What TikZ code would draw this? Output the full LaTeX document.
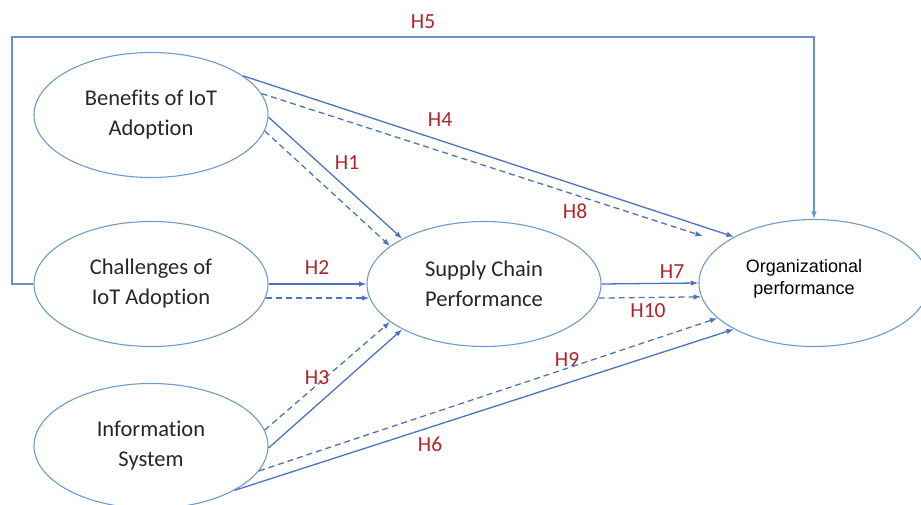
\documentclass[tikz,border=0pt]{standalone}
\usepackage{fontspec}
\setmainfont{Carlito}[Ligatures={NoCommon}]
\newfontfamily\orgfont{Liberation Sans}
\usetikzlibrary{shapes.geometric,arrows.meta}
\definecolor{ellc}{HTML}{6E9BCB}
\definecolor{linec}{HTML}{4A74C0}
\definecolor{labc}{HTML}{B3232A}
\tikzset{
  construct/.style={ellipse, draw=ellc, line width=1.1pt, inner sep=0pt,
    minimum width=234pt, minimum height=125pt, align=center,
    font=\fontsize{22.5}{30}\selectfont, text=black!85},
  link/.style={draw=linec, line width=1.3pt, -{Latex[length=7.5pt,width=5.5pt]}},
  dlink/.style={link, dash pattern=on 6pt off 4pt},
  hlab/.style={text=labc, font=\fontsize{21.5}{24}\selectfont, inner sep=0pt}
}
\begin{document}
\begin{tikzpicture}[x=1pt,y=-1pt]
\useasboundingbox (0,0) rectangle (921,505);
\node[construct] (ben) at (151,115) {Benefits of IoT\\Adoption};
\node[construct] (chal) at (151,284) {Challenges of\\IoT Adoption};
\node[construct] (info) at (151,446) {Information\\System};
\node[construct] (sc) at (484,284) {Supply Chain\\Performance};
\node[construct, minimum width=230pt, minimum height=127pt] (org) at (814,283) {};
\node[font=\orgfont\fontsize{18}{22}\selectfont, align=center, text=black] (orgt) at (804,279) {Organizational\\performance};
\coordinate (h5a) at (12,37);
% H5
\draw[link, draw=ellc!80!linec] (chal.west) -| (h5a) -| (org.north);
% H4 / H8
\draw[link] (ben.23.5) -- (org.150.3);
\draw[dlink, shorten >=22pt] (ben.11.7) -- (org.156.9);
% H1
\draw[link] (ben.-1) -- (sc.151.3);
\draw[dlink] (ben.-8.5) -- (sc.158.4);
% H2
\draw[link] (chal.0) -- (sc.180);
\draw[dlink] (chal.-7.5) -- (sc.187.6);
% H3
\draw[link] (info.-1) -- (sc.209);
\draw[dlink] (info.8.6) -- (sc.202.8);
% H7 / H10
\draw[link] (sc.0) -- (org.180);
\draw[dlink] (sc.-7.1) -- (org.187.2);
% H6 / H9
\draw[link] (info.-28.7) -- (org.210.2);
\draw[dlink] (info.-13) -- (org.200.8);
% labels
\node[hlab] (l5) at (423,22) {H5};
\node[hlab] (l4) at (440,120) {H4};
\node[hlab] (l1) at (347,163) {H1};
\node[hlab] (l8) at (575,211) {H8};
\node[hlab] (l2) at (317,268) {H2};
\node[hlab] (l7) at (672,272) {H7};
\node[hlab] (l10) at (648,311) {H10};
\node[hlab] (l3) at (317,378) {H3};
\node[hlab] (l9) at (567,360) {H9};
\node[hlab] (l6) at (430,444) {H6};
\end{tikzpicture}
\end{document}
